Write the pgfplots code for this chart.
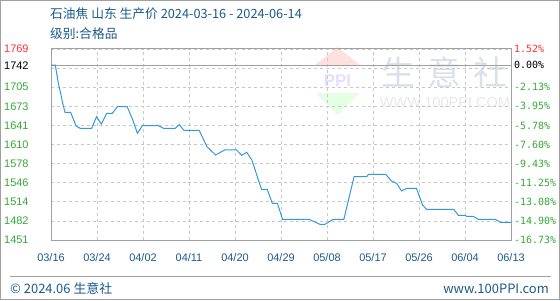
\documentclass[border=0pt]{standalone}
\usepackage{pgfplots}
\pgfplotsset{compat=1.18}
\usepackage{fontspec}
\setmainfont{Liberation Sans}
\newfontfamily\cjk{Noto Sans CJK SC}
\newfontfamily\mono{DejaVu Sans Mono}
\definecolor{titleblue}{RGB}{26,90,140}
\definecolor{lgreen}{RGB}{51,170,51}
\definecolor{lred}{RGB}{255,51,51}
\definecolor{lineblue}{RGB}{51,153,221}
\definecolor{frame}{RGB}{160,160,160}
\definecolor{wmark}{RGB}{218,224,234}
\begin{document}
\begin{tikzpicture}
\begin{scope}[x=1bp,y=-1bp,yshift=300bp]
\path[use as bounding box] (0,0) rectangle (560,300);
\draw[frame, line width=1bp] (0.5,0.5) rectangle (559.5,299.5);
% watermark
\fill[red!12!white] (337.5,47) -- (315,65) -- (360,65) -- cycle;
\fill[green!10!white] (315,93) -- (360,93) -- (337.5,115) -- cycle;
\node[text=blue!12!white, inner sep=0, font=\bfseries\fontsize{17}{17}\selectfont] at (337.5,81) {PPI};
\node[text=wmark, inner sep=0, font=\cjk\fontsize{34}{34}\selectfont] at (398.5,72.5) {生};
\node[text=wmark, inner sep=0, font=\cjk\fontsize{34}{34}\selectfont] at (444.5,72.5) {意};
\node[text=wmark, inner sep=0, font=\cjk\fontsize{34}{34}\selectfont] at (490.5,72.5) {社};
\node[text=black!9, inner sep=0, font=\fontsize{14.6}{15}\selectfont] at (445,102.5) {WWW.100PPI.COM};
% titles
\node[anchor=base west, inner sep=0, text=titleblue, font=\cjk\fontsize{12.8}{14}\selectfont] at (50,18.5) {石油焦 山东 生产价 2024-03-16 - 2024-06-14};
\node[anchor=base west, inner sep=0, text=titleblue, font=\cjk\fontsize{12.8}{14}\selectfont] at (50,39) {级别:合格品};
% footer
\draw[frame, line width=1bp] (10,276.5) -- (551,276.5);
\node[anchor=base west, inner sep=0, text=titleblue, font=\cjk\fontsize{13}{14}\selectfont] at (10,293) {© 2024.06 生意社};
\node[anchor=base east, inner sep=0, text=titleblue, font=\cjk\fontsize{13}{14}\selectfont] at (549,293) {www.100PPI.com};
\end{scope}
\begin{axis}[
  at={(51bp,60bp)}, anchor=south west,
  width=460bp, height=191bp, scale only axis,
  xmin=0, xmax=90, ymin=1451, ymax=1769,
  xtick={0,9,...,90},
  xticklabels={03/16,03/24,04/02,04/11,04/20,04/29,05/08,05/17,05/26,06/04,06/13},
  ytick={1451,1482.8,1514.6,1546.4,1578.2,1610,1641.8,1673.6,1705.4,1737.2,1742,1769},
  yticklabels={{\color{lgreen}1451},{\color{lgreen}1482},{\color{lgreen}1514},{\color{lgreen}1546},{\color{lgreen}1578},{\color{lgreen}1610},{\color{lgreen}1641},{\color{lgreen}1673},{\color{lgreen}1705},{},{\color{black}1742},{\color{lred}1769}},
  major tick length=0pt,
  grid=major, grid style={dashed, color=black!22, line width=0.8bp},
  axis line style={frame, line width=1bp},
  xticklabel style={anchor=base, inner sep=0pt, yshift=-21bp, text=titleblue, font=\fontsize{11}{11}\selectfont},
  yticklabel style={anchor=west, inner sep=0pt, xshift=-47bp, font=\fontsize{11}{11}\selectfont},
  /pgf/number format/assume math mode=true,
  clip=true,
]
\addplot[frame, line width=1bp, forget plot] coordinates {(0,1742) (90,1742)};
\addplot[lineblue, line width=1bp, mark=none] coordinates {
(0,1742) (0.85,1742) (1.43,1712) (1.9,1695) (2.29,1678.6) (2.74,1663.6) (3.85,1663.6)
(4.9,1640.8) (5.7,1637) (7.96,1637) (8.9,1656.3) (9.85,1644) (10.9,1662) (12,1662)
(13,1673) (14.9,1673) (16,1650.8) (16.9,1628.7) (17.9,1641.3) (21,1641.3) (22,1637)
(24.3,1637) (25.1,1643) (26,1633.6) (29,1633.6) (30.5,1606.4) (32.2,1592.5) (34,1600.9)
(36.3,1600.9) (37.3,1592) (38.3,1597) (39.3,1584.2) (40.9,1542.6) (41.2,1535.4) (42.3,1535.4)
(43.3,1512) (44.3,1512) (45.3,1485.5) (50.5,1485.5) (52.6,1477.1) (53.6,1477.1) (55.2,1485.5)
(57.3,1485.5) (58.2,1517.6) (59.3,1556.4) (61.8,1556.4) (62.1,1560.4) (65.5,1560.4)
(66.6,1549.2) (67.6,1545.4) (68.6,1532.6) (69.6,1537) (71.5,1537) (72.7,1509.3) (73.5,1502.1)
(78.8,1502.1) (79.7,1492.1) (81,1492.1) (81.3,1490.5) (82.6,1490.5) (83.6,1485.5)
(86.9,1485.5) (87.9,1480.5) (90,1480.5)
};
\end{axis}
\begin{axis}[
  at={(51bp,60bp)}, anchor=south west,
  width=460bp, height=191bp, scale only axis,
  xmin=0, xmax=90, ymin=1451, ymax=1769,
  axis x line=none, axis y line*=right,
  axis line style={draw=none},
  ytick={1451,1482.8,1514.6,1546.4,1578.2,1610,1641.8,1673.6,1705.4,1742,1769},
  yticklabels={{\color{lgreen}-16.73\%},{\color{lgreen}-14.90\%},{\color{lgreen}-13.08\%},{\color{lgreen}-11.25\%},{\color{lgreen}-9.43\%},{\color{lgreen}-7.60\%},{\color{lgreen}-5.78\%},{\color{lgreen}-3.95\%},{\color{lgreen}-2.13\%},{\color{black}0.00\%},{\color{lred}1.52\%}},
  major tick length=0pt,
  yticklabel style={anchor=west, inner sep=0pt, xshift=3bp, font=\mono\fontsize{10}{10}\selectfont},
  /pgf/number format/assume math mode=true,
]
\end{axis}
\end{tikzpicture}
\end{document}
